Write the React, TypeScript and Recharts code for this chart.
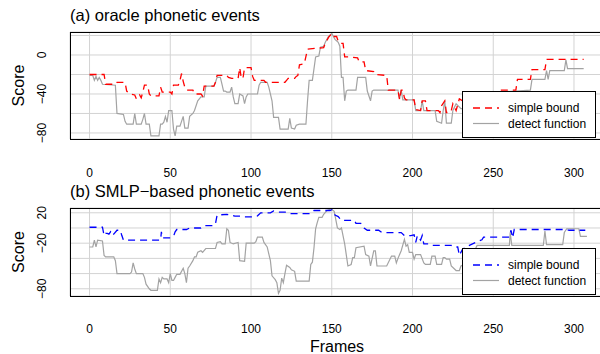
import { LineChart, Line, XAxis, YAxis, CartesianGrid } from 'recharts';

const FONT = '"Liberation Sans", Arial, Helvetica, sans-serif';

const frameTicks = [0, 50, 100, 150, 200, 250, 300];
const scoreTicks = [-80, -60, -40, -20, 0, 20];
const oracleLabels = [0, -40, -80];
const smlpLabels = [20, -20, -80];
const legendNames = ['simple bound', 'detect function'];

// [frame, score]
const oracleBound: [number, number][] = [
  [0, -20], [9, -20], [10, -30], [16, -30], [17, -28], [22, -28], [23, -37], [25, -40], [28, -41], [29, -45],
  [31, -41], [32, -44], [33, -38], [34, -31], [36, -31], [37, -40], [38, -42], [43, -42], [44, -33], [45, -38],
  [50, -38], [51, -40], [52, -31], [55, -31], [56, -26], [57, -19], [58, -27], [59, -33], [60, -36], [64, -36],
  [65, -40], [69, -40], [70, -42], [71, -32], [77, -32], [78, -28], [79, -21], [85, -21], [86, -23], [88, -24],
  [92, -24], [93, -13], [94, -24], [95, -24], [96, -13], [100, -13], [101, -22], [102, -26], [108, -26], [109, -28],
  [121, -28], [122, -26], [123, -24], [127, -24], [128, -22], [129, -21], [130, -10], [133, -9], [135, 6], [145, 7.6],
  [146, 12], [148, 18], [150, 22], [151, 19], [153, 19], [154, 14], [155, 12], [157, 12], [158, -2], [161, -2],
  [166, -3], [167, -7], [170, -7], [171, -16], [176, -17], [177, -20], [184, -21], [185, -36], [191, -36], [192, -46],
  [193, -36], [194, -36], [195, -44], [196, -46], [201, -46], [202, -56], [205, -57], [206, -47], [208, -47], [209, -57],
  [216, -57], [217, -59], [218, -52], [220, -47], [221, -59], [223, -59], [224, -57], [225, -50], [227, -57], [229, -45],
  [232, -48], [240, -48], [248, -42], [252, -38], [253, -36], [264, -36], [265, -25], [273, -25], [274, -15], [282, -15],
  [283, -4.5], [306, -4.5],
];

const oracleDetect: [number, number][] = [
  [0, -21], [2, -21], [3, -26], [4, -22], [5, -26], [6, -23], [7, -26], [8, -30], [16, -31], [17, -60],
  [21, -61], [22, -68], [23, -71], [27, -71], [28, -60], [29, -71], [32, -71], [33, -66], [34, -60], [35, -71],
  [37, -71], [38, -83], [43, -83], [44, -71], [45, -71], [46, -69], [47, -63], [48, -69], [49, -57], [51, -57],
  [52, -76], [53, -83], [54, -73], [56, -73], [58, -63], [59, -75], [61, -75], [62, -63], [64, -60], [65, -57],
  [67, -47], [69, -43], [71, -43], [72, -32], [77, -32], [78, -28], [79, -23], [81, -23], [82, -30], [83, -37],
  [84, -37], [85, -38], [87, -38], [88, -33], [89, -43], [90, -50], [92, -50], [93, -40], [95, -42], [96, -50],
  [97, -43], [98, -40], [104, -40], [105, -31], [106, -28], [110, -28], [111, -33], [113, -47], [114, -64], [117, -64],
  [118, -76], [123, -76], [124, -65], [125, -75], [127, -76], [128, -72], [130, -71], [134, -71], [135, -47], [136, -26],
  [138, -26], [140, -2], [142, -1], [143, 8], [145, 9], [146, 13], [148, 19], [150, 22], [152, 16], [154, 13],
  [155, 9], [156, -23], [157, -23], [158, -47], [159, -37], [160, -36], [165, -36], [166, -23], [171, -23], [172, -37],
  [174, -47], [175, -37], [176, -36], [191, -36], [192, -45], [193, -36], [194, -46], [201, -46], [202, -57], [205, -57],
  [206, -47], [207, -57], [214, -57], [215, -68], [218, -70], [219, -57], [220, -47], [221, -70], [224, -70], [225, -57],
  [227, -50], [230, -55], [240, -55], [250, -45], [253, -38], [264, -37], [273, -36], [274, -25], [282, -25], [283, -16],
  [284, -25], [285, -16], [294, -16], [295, -5], [296, -14], [306, -14],
];

const smlpBound: [number, number][] = [
  [0, 1], [8, 1], [9, -10], [10, -7], [11, -7], [12, -8], [13, -5], [14, -10], [15, -8], [17, -3],
  [19, -3], [20, -10], [21, -16], [44, -16], [44.5, -5], [45, -13], [50, -13], [52, -11], [53, -5], [54, -2],
  [60, -2], [62, 0], [69, 0], [71, 3], [77, 3], [78, 6], [79, 17], [85, 18], [88, 17], [90, 15.5],
  [94, 15.5], [96, 14.6], [102, 14.6], [104, 16], [106, 20], [112, 20], [114, 22.5], [117, 21], [121, 21], [123, 19],
  [137, 19], [139, 23], [149, 23], [150, 24], [152, 17], [154, 15], [156, 10], [164, 10], [165, 6], [168, 6],
  [170, 0], [172, -3], [179, -3], [181, -6], [193, -6], [195, -10], [199, -10], [201, -9], [202, -19], [203, -10],
  [205, -16], [206, -10], [207, -21], [210, -21], [212, -23], [224, -23], [226, -25], [228, -25], [229, -36], [231, -28],
  [234, -24], [240, -18], [243, -15.5], [244, -12], [260, -12], [261, -3], [262, -13], [263, -2], [295, -2], [297, -3],
  [307, -3],
];

const smlpDetect: [number, number][] = [
  [0, -25], [2, -25], [3, -16], [4, -25], [5, -16], [8, -17], [9, -36], [10, -38], [15, -38], [16, -43],
  [17, -60], [25, -60], [26, -58], [27, -46], [28, -54], [29, -60], [33, -60], [34, -65], [35, -74], [37, -80],
  [38, -82], [42, -82], [43, -67], [44, -72], [45, -65], [46, -67], [48, -67], [49, -72], [50, -60], [51, -69],
  [52, -69], [53, -65], [54, -61], [56, -61], [58, -53], [59, -60], [60, -72], [61, -53], [62, -50], [64, -43],
  [65, -38], [66, -38], [67, -32], [69, -30], [70, -32], [72, -27], [78, -27], [79, -19], [81, -18], [82, -21],
  [84, -21], [85, -1], [86, -3], [87, -19], [89, -21], [92, -19], [93, -43], [96, -44], [97, -20], [102, -20],
  [103, -18], [104, -12], [107, -12], [108, -19], [110, -25], [112, -43], [113, -63], [115, -68], [116, -72], [117, -86],
  [118, -82], [119, -66], [120, -72], [121, -60], [122, -49], [124, -52], [125, -55], [127, -57], [128, -70], [136, -70],
  [137, -48], [138, -45], [139, -26], [140, -1], [141, 7], [142, 14], [144, 14], [145, 18], [147, 23], [149.5, 25],
  [151.5, 22], [153.5, 0], [155, -2], [156, 0], [158, -21], [160, -50], [162, -48], [163, -39], [164, -39], [165, -26],
  [170, -24], [171, -35], [173, -37], [174, -50], [176, -30], [177, -30], [178, -50], [184, -50], [187, -37], [189, -37],
  [190, -46], [191, -40], [193, -30], [195, -15], [196, -24], [197, -22], [198, -32], [200, -32], [201, -41], [202, -35],
  [205, -35], [207, -46], [208, -48], [211, -48], [212, -37], [214, -37], [215, -48], [218, -48], [219, -39], [220, -39],
  [221, -41], [223, -41], [224, -50], [226, -54], [227, -56], [229, -56], [230, -50], [235, -45], [240, -23], [260, -23],
  [260.5, -6], [261.5, -23], [281, -23], [282, -4], [283, -22], [293, -22], [294, -6], [295.5, -1], [303, -1], [304, -11],
  [308, -11],
];

const toRows = (pts: [number, number][]) => pts.map(([frame, score]) => ({ frame, score }));
const minus = (v: number) => String(v).replace('-', '\u2212');

type PanelProps = {
  top: number;
  height: number;
  title: string;
  bound: [number, number][];
  detect: [number, number][];
  boundColor: string;
  labels: number[];
  yDomain: [number, number];
  tickMargin: number;
};

const PLOT_TOP = 32;

function Panel({ top, height, title, bound, detect, boundColor, labels, yDomain, tickMargin }: PanelProps) {
  const xAxisHeight = 41;
  const plotBottom = height - xAxisHeight;
  const YTick = (props: any) => {
    const { y, payload } = props;
    if (!labels.includes(payload.value)) return <g />;
    return (
      <text
        x={42}
        y={y}
        transform={`rotate(-90, 42, ${y})`}
        textAnchor="middle"
        dominantBaseline="central"
        fontSize={12}
        fontFamily={FONT}
        fill="#000"
      >
        {minus(payload.value)}
      </text>
    );
  };

  return (
    <div style={{ position: 'absolute', left: 0, top, width: 610, height }}>
      <LineChart width={610} height={height} margin={{ top: PLOT_TOP, right: 0, bottom: 0, left: 0 }}>
        <CartesianGrid stroke="#d3d3d3" strokeWidth={1} />
        <XAxis
          dataKey="frame"
          type="number"
          domain={[-12.1, 322.3]}
          allowDataOverflow
          ticks={frameTicks}
          interval={0}
          axisLine={false}
          tickLine={false}
          tickSize={0}
          tickMargin={tickMargin}
          height={xAxisHeight}
          tick={{ fontSize: 12, fill: '#000', fontFamily: FONT }}
        />
        <YAxis
          type="number"
          domain={yDomain}
          allowDataOverflow
          ticks={scoreTicks}
          interval={0}
          width={70}
          axisLine={false}
          tickLine={false}
          tick={YTick}
        />
        <Line
          data={toRows(detect)}
          dataKey="score"
          type="linear"
          stroke="#a3a3a3"
          strokeWidth={1.2}
          dot={false}
          isAnimationActive={false}
        />
        <Line
          data={toRows(bound)}
          dataKey="score"
          type="linear"
          stroke={boundColor}
          strokeWidth={1.3}
          strokeDasharray="7 5"
          dot={false}
          isAnimationActive={false}
        />
      </LineChart>
      <div
        style={{
          position: 'absolute',
          left: 70,
          top: PLOT_TOP,
          width: 560,
          height: plotBottom - PLOT_TOP + 1,
          border: '1px solid #000',
          boxSizing: 'border-box',
          pointerEvents: 'none',
        }}
      />
      <svg width={610} height={height} style={{ position: 'absolute', left: 0, top: 0, pointerEvents: 'none' }}>
        <text x={70} y={21} fontSize={16.5} fontFamily={FONT} fill="#000">
          {title}
        </text>
        <text
          x={18}
          y={(PLOT_TOP + plotBottom) / 2}
          transform={`rotate(-90, 18, ${(PLOT_TOP + plotBottom) / 2})`}
          textAnchor="middle"
          dominantBaseline="central"
          fontSize={16}
          fontFamily={FONT}
          fill="#000"
        >
          Score
        </text>
        <g transform={`translate(462, ${plotBottom - 48})`}>
          <rect x={0.5} y={0.5} width={133} height={46} fill="#fff" stroke="#000" strokeWidth={1} />
          <line x1={11} x2={37} y1={17} y2={17} stroke={boundColor} strokeWidth={1.3} strokeDasharray="7 5" />
          <line x1={11} x2={37} y1={32.5} y2={32.5} stroke="#a3a3a3" strokeWidth={1.2} />
          <text x={46} y={17} dominantBaseline="central" fontSize={12} fontFamily={FONT} fill="#000">
            {legendNames[0]}
          </text>
          <text x={46} y={32.5} dominantBaseline="central" fontSize={12} fontFamily={FONT} fill="#000">
            {legendNames[1]}
          </text>
        </g>
      </svg>
    </div>
  );
}

export default function App() {
  return (
    <div
      style={{
        position: 'fixed',
        left: 0,
        top: 0,
        width: 600,
        height: 354,
        overflow: 'hidden',
        background: '#fff',
        fontFamily: FONT,
      }}
    >
      <Panel
        top={0}
        height={180}
        title="(a) oracle phonetic events"
        bound={oracleBound}
        detect={oracleDetect}
        boundColor="#ff0000"
        labels={oracleLabels}
        yDomain={[-86.2, 23.6]}
        tickMargin={29}
      />
      <Panel
        top={176}
        height={161}
        title={'(b) SMLP\u2212based phonetic events'}
        bound={smlpBound}
        detect={smlpDetect}
        boundColor="#0000ff"
        labels={smlpLabels}
        yDomain={[-89.5, 26.3]}
        tickMargin={28}
      />
      <svg width={600} height={354} style={{ position: 'absolute', left: 0, top: 0, pointerEvents: 'none' }}>
        <text x={337} y={352} textAnchor="middle" fontSize={16} fontFamily={FONT} fill="#000">
          Frames
        </text>
      </svg>
    </div>
  );
}
